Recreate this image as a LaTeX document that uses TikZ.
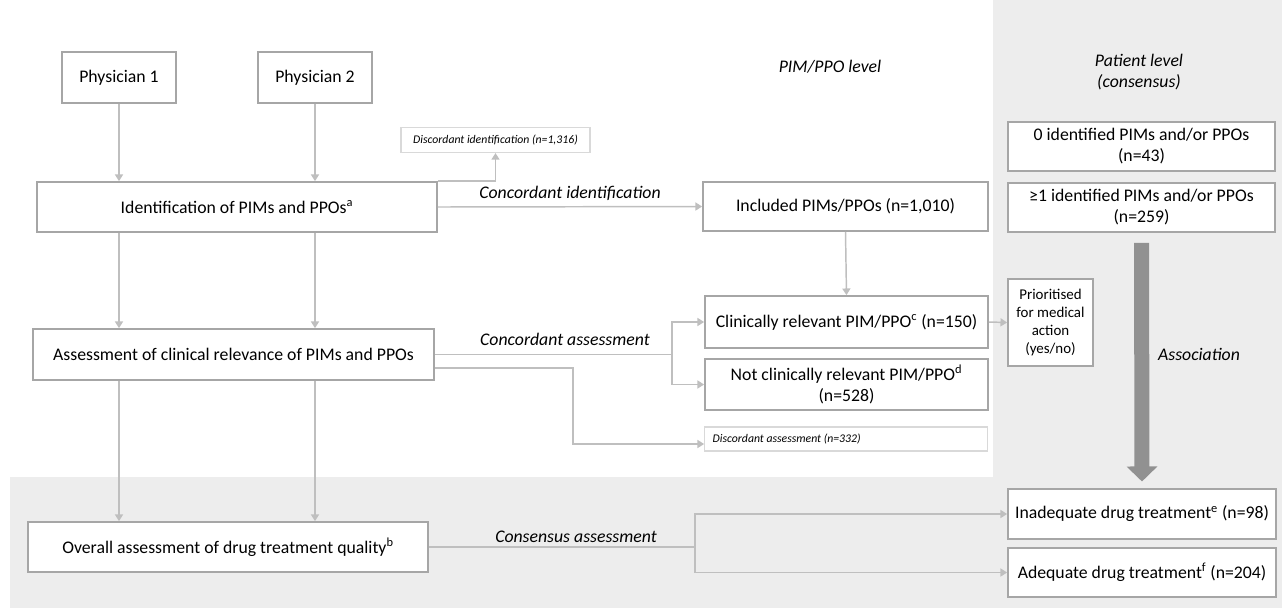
\documentclass[tikz,border=0pt]{standalone}
\usepackage{fontspec}
\setmainfont{Carlito}
\usetikzlibrary{arrows.meta,calc}
\definecolor{bgGray}{RGB}{237,237,237}
\definecolor{boxLine}{RGB}{166,166,166}
\definecolor{linkGray}{RGB}{191,191,191}
\definecolor{thinLine}{RGB}{217,217,217}
\definecolor{assocGray}{RGB}{145,145,145}

\begin{document}
\begin{tikzpicture}[
    x=0.75pt,y=-0.75pt,
    line join=miter,
    every node/.style={font=\fontsize{13.3}{15.75}\selectfont},
    box/.style={
        draw=boxLine,
        line width=1.3pt,
        fill=white,
        align=center,
        inner sep=2pt
    },
    note/.style={
        draw=thinLine,
        line width=0.8pt,
        fill=white,
        inner sep=2pt,
        font=\fontsize{8.8}{10}\selectfont\itshape
    },
    link/.style={
        draw=linkGray,
        line width=1.1pt,
        -{Triangle[length=5pt,width=6pt]}
    },
    plain/.style={draw=linkGray,line width=1.1pt},
    lab/.style={font=\fontsize{13.3}{15.75}\selectfont\itshape},
    bigarrow/.style={
        draw=assocGray,
        line width=11.25pt,
        -{Triangle[length=11.25pt,width=22.5pt]}
    }
]

\useasboundingbox (0,0) rectangle (1282,608);

% ============================================================
% shaded areas: patient level and consensus
% ============================================================

\fill[bgGray] (993,0) rectangle (1282,608);
\fill[bgGray] (10,477) rectangle (1282,608);

% ============================================================
% physicians and PIM/PPO level
% ============================================================

\node[box,minimum width=85.5pt,minimum height=38.25pt] (phys1) at (119,77.5) {Physician 1};
\node[box,minimum width=85.5pt,minimum height=38.25pt] (phys2) at (315,77.5) {Physician 2};

\node[box,minimum width=300pt,minimum height=37.5pt] (ident) at (237,207)
    {Identification of PIMs and PPOs\textsuperscript{a}};
\node[note,minimum width=141.75pt,minimum height=18.75pt] (discid) at (495.5,140)
    {Discordant identification (n=1,316)};

\node[box,minimum width=300.75pt,minimum height=38.25pt] (assess) at (233.5,354.5)
    {Assessment of clinical relevance of PIMs and PPOs};

\node[lab] (pimlevel) at (830,67) {PIM/PPO level};

\node[box,minimum width=213.75pt,minimum height=36.75pt] (incl) at (845.5,206.5)
    {Included PIMs/PPOs (n=1,010)};
\node[box,minimum width=212.25pt,minimum height=39pt] (clin) at (846.5,322)
    {Clinically relevant PIM/PPO\textsuperscript{c} (n=150)};
\node[box,minimum width=212.25pt,minimum height=38.25pt] (notclin) at (846.5,384.5)
    {Not clinically relevant PIM/PPO\textsuperscript{d}\\(n=528)};
\node[note,minimum height=18pt,text width=200pt,inner xsep=6pt,align=flush left] (discas) at (846,439)
    {Discordant assessment (n=332)};

\node[box,minimum width=63.75pt,minimum height=65.25pt,font=\fontsize{11.2}{13.5}\selectfont] (prio) at (1050.5,322.5)
    {Prioritised\\for medical\\action\\(yes/no)};

% ============================================================
% patient level
% ============================================================

\node[lab,align=center] (patlevel) at (1139,72) {Patient level\\(consensus)};

\node[box,minimum width=200.25pt,minimum height=36.75pt] (zero) at (1141.5,146.5)
    {0 identified PIMs and/or PPOs\\(n=43)};
\node[box,minimum width=200.25pt,minimum height=36.75pt] (one) at (1141.5,207.5)
    {≥1 identified PIMs and/or PPOs\\(n=259)};

\node[box,minimum width=300pt,minimum height=37.5pt] (overall) at (228,547)
    {Overall assessment of drug treatment quality\textsuperscript{b}};

\node[box,minimum width=201pt,minimum height=37.5pt] (inad) at (1142,514)
    {Inadequate drug treatment\textsuperscript{e} (n=98)};
\node[box,minimum width=201pt,minimum height=36.75pt] (adeq) at (1142,572.5)
    {Adequate drug treatment\textsuperscript{f} (n=204)};

% ============================================================
% connectors
% ============================================================

\draw[link] (phys1) -- (phys1 |- ident.north);
\draw[link] (phys2) -- (phys2 |- ident.north);
\draw[link] (phys1 |- ident.south) -- (phys1 |- assess.north);
\draw[link] (phys2 |- ident.south) -- (phys2 |- assess.north);
\draw[link] (phys1 |- assess.south) -- (phys1 |- overall.north);
\draw[link] (phys2 |- assess.south) -- (phys2 |- overall.north);

\draw[link] (ident.north east) -| (discid.south);
\draw[link] (ident.east) -- (incl.west)
    node[lab,midway,above,yshift=1pt] (cidlab) {Concordant identification};
\draw[link] (incl.south) -- (clin.north);

\coordinate (casplit) at (672,354.5);
\draw[plain] (assess.east) -- (casplit);
\node[lab] (caslab) at (565,339) {Concordant assessment};
\draw[link] (casplit) |- (clin.west);
\draw[link] (casplit) |- (notclin.west);
\draw[link] ([yshift=-10pt]assess.east) -| (573,420) |- ([yshift=-3.75pt]discas.west);

\draw[link] (clin.east) -- (prio.west);

\coordinate (cssplit) at (695,547);
\draw[plain] (overall.east) -- (cssplit);
\node[lab] (cslab) at (576,537) {Consensus assessment};
\draw[link] (cssplit) |- (inad.west);
\draw[link] (cssplit) |- (adeq.west);

\draw[bigarrow,shorten <=7.5pt,shorten >=5pt] (one.south) -- (inad.north);
\node[lab] (assoclab) at (1199,354) {Association};

\end{tikzpicture}
\end{document}
